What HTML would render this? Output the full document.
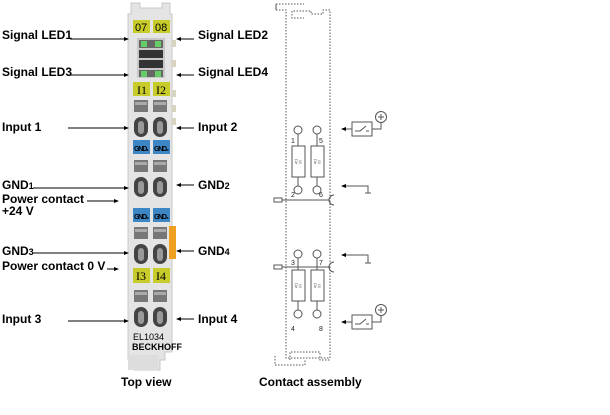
<!DOCTYPE html>
<html><head><meta charset="utf-8"><style>
body{margin:0;background:#fff;width:610px;height:415px;overflow:hidden}
svg{display:block}
text{font-family:"Liberation Sans",Arial,sans-serif;font-weight:bold;font-size:12px;fill:#000}
.y{fill:#c8cc2a}.b{fill:#3d86c6}
.lt{font-size:10px;font-weight:normal;fill:#222}
</style></head><body>
<svg width="610" height="415" viewBox="0 0 610 415" xmlns="http://www.w3.org/2000/svg">
<defs>
<marker id="a" markerWidth="5" markerHeight="5" refX="4" refY="2.5" orient="auto" markerUnits="userSpaceOnUse"><path d="M0,0.5 L5,2.5 L0,4.5z" fill="#000"/></marker>
<g id="ct">
<rect x="0" y="0" width="14" height="12" fill="#777"/><rect x="1" y="2" width="12" height="3" fill="#aaa"/>
<rect x="0" y="17" width="14" height="20" rx="7" fill="#444"/><rect x="4" y="21" width="6" height="13" rx="3" fill="#999"/>
</g>
<g id="cmp">
<circle cx="0" cy="0" r="4" fill="#fff" stroke="#555"/>
<line x1="0" y1="4" x2="0" y2="60" stroke="#555"/>
<rect x="-6" y="16" width="13" height="31" fill="#fff" stroke="#555"/>
<text x="-4" y="34" style="font-size:6px;font-weight:normal;fill:#777">⊽≡</text>
<circle cx="0" cy="60" r="4" fill="#fff" stroke="#555"/>
</g>
<g id="sw">
<rect x="0" y="0" width="20" height="14" fill="#fff" stroke="#555"/>
<path d="M3,9 H8 L14,4 M14,9 H17" stroke="#555" fill="none"/>
<line x1="0" y1="7" x2="-10" y2="7" stroke="#555" marker-end="url(#a)"/>
<path d="M20,7 H29 V1" stroke="#555" fill="none"/>
<circle cx="29" cy="-5" r="5.5" fill="#fff" stroke="#555"/>
<path d="M26,-5 H32 M29,-8 V-2" stroke="#555"/>
</g>
</defs>
<path d="M128,14 H131 V3 H140 V8 H162 V3 H170 V14 H172 V352 H165 V360 H160 V370 H134 V360 H128 Z" fill="#e4e4e4" stroke="#c8c8c8"/>
<rect x="128" y="355" width="30" height="15" fill="#ddd"/>
<rect x="133" y="20" width="17" height="13" class="y"/><rect x="153" y="20" width="17" height="13" class="y"/>
<text x="135" y="31" style="font-size:11px;font-weight:normal">07</text><text x="155" y="31" style="font-size:11px;font-weight:normal">08</text>
<rect x="137" y="38" width="28" height="40" fill="#c8c8c8"/>
<rect x="139" y="40" width="24" height="8" fill="#666"/><rect x="141" y="41" width="6" height="6" fill="#6c6"/><rect x="155" y="41" width="6" height="6" fill="#6c6"/>
<rect x="139" y="50" width="24" height="8" fill="#333"/><rect x="139" y="60" width="24" height="8" fill="#333"/>
<rect x="139" y="70" width="24" height="7" fill="#666"/><rect x="141" y="71" width="6" height="6" fill="#6c6"/><rect x="155" y="71" width="6" height="6" fill="#6c6"/>
<rect x="172" y="40" width="4" height="7" fill="#d8d4c0"/><rect x="172" y="60" width="4" height="7" fill="#d8d4c0"/><rect x="172" y="90" width="4" height="7" fill="#d8d4c0"/><rect x="172" y="105" width="4" height="7" fill="#d8d4c0"/><rect x="172" y="118" width="4" height="7" fill="#d8d4c0"/>
<rect x="133" y="82" width="17" height="14" class="y"/><rect x="153" y="82" width="17" height="14" class="y"/>
<text x="137" y="94" style="font-family:'Liberation Serif',serif;font-weight:normal">I1</text><text x="156" y="94" style="font-family:'Liberation Serif',serif;font-weight:normal">I2</text>
<use href="#ct" x="134" y="100"/><use href="#ct" x="153" y="100"/>
<rect x="133" y="140" width="17" height="14" class="b"/><rect x="153" y="140" width="17" height="14" class="b"/>
<text x="134" y="151" style="font-size:7px" textLength="15">GND₁</text><text x="154" y="151" style="font-size:7px" textLength="15">GND₂</text>
<use href="#ct" x="134" y="160"/><use href="#ct" x="153" y="160"/>
<rect x="133" y="208" width="17" height="14" class="b"/><rect x="153" y="208" width="17" height="14" class="b"/>
<text x="134" y="219" style="font-size:7px" textLength="15">GND₃</text><text x="154" y="219" style="font-size:7px" textLength="15">GND₄</text>
<use href="#ct" x="134" y="227"/><use href="#ct" x="153" y="227"/>
<rect x="169" y="226" width="7" height="33" fill="#f0a020"/>
<rect x="133" y="268" width="17" height="15" class="y"/><rect x="153" y="268" width="17" height="15" class="y"/>
<text x="136" y="280" style="font-family:'Liberation Serif',serif;font-weight:normal">I3</text><text x="156" y="280" style="font-family:'Liberation Serif',serif;font-weight:normal">I4</text>
<use href="#ct" x="134" y="290"/><use href="#ct" x="153" y="290"/>
<text x="133" y="340" style="font-size:9px;font-weight:normal">EL1034</text>
<text x="132" y="350" style="font-size:9px">BECKHOFF</text>
<g stroke="#000" fill="none" marker-end="url(#a)">
<line x1="70" y1="39" x2="128" y2="39"/><line x1="70" y1="75" x2="128" y2="75"/>
<line x1="68" y1="128" x2="128" y2="128"/><line x1="33" y1="188" x2="128" y2="188"/>
<line x1="87" y1="201" x2="118" y2="201"/><line x1="33" y1="253" x2="128" y2="253"/>
<line x1="107" y1="269" x2="118" y2="269"/><line x1="68" y1="321" x2="128" y2="321"/>
<line x1="194" y1="39" x2="177" y2="39"/><line x1="194" y1="75" x2="177" y2="75"/>
<line x1="194" y1="128" x2="177" y2="128"/><line x1="194" y1="185" x2="177" y2="185"/>
<line x1="194" y1="251" x2="177" y2="251"/><line x1="194" y1="319" x2="177" y2="319"/>
</g>
<text x="2" y="39">Signal LED1</text><text x="2" y="76">Signal LED3</text>
<text x="2" y="131">Input 1</text>
<text x="2" y="189">GND<tspan style="font-size:9px">1</tspan></text>
<text x="2" y="203">Power contact</text><text x="2" y="215">+24 V</text>
<text x="2" y="255">GND<tspan style="font-size:9px">3</tspan></text>
<text x="2" y="270">Power contact 0 V</text>
<text x="2" y="323">Input 3</text>
<text x="198" y="39">Signal LED2</text><text x="198" y="76">Signal LED4</text>
<text x="198" y="131">Input 2</text>
<text x="198" y="189">GND<tspan style="font-size:9px">2</tspan></text>
<text x="198" y="255">GND<tspan style="font-size:9px">4</tspan></text>
<text x="198" y="323">Input 4</text>
<text x="121" y="386" style="font-size:12px">Top view</text>
<text x="259" y="386" style="font-size:12px">Contact assembly</text>
<g stroke="#555" fill="none" stroke-dasharray="1.5,1.5">
<path d="M276,4 H304 M276,4 V10 H286 V358 H330 V10 H323 V14 H311 V11 H292 V18 H304"/>
<path d="M276,10 V4 M275,356 V365 H305 V360 M290,360 V352 H320 V360 H330"/>
</g>
<use href="#cmp" x="298" y="130"/><use href="#cmp" x="317" y="130"/>
<text class="lt" x="291" y="143" style="font-size:7px">1</text><text class="lt" x="319" y="143" style="font-size:7px">5</text>
<text class="lt" x="291" y="197" style="font-size:7px">2</text><text class="lt" x="319" y="197" style="font-size:7px">6</text>
<rect x="274" y="198" width="8" height="4" fill="#fff" stroke="#555"/>
<line x1="282" y1="200" x2="329" y2="200" stroke="#555"/>
<path d="M334,195 A5,5 0 0 0 334,205" stroke="#555" fill="none"/>
<path d="M368,193 V186 H342" stroke="#555" fill="none" marker-end="url(#a)"/>
<line x1="365" y1="193" x2="371" y2="193" stroke="#555"/>
<use href="#sw" x="352" y="122"/>
<use href="#cmp" x="298" y="254"/><use href="#cmp" x="317" y="254"/>
<text class="lt" x="291" y="265" style="font-size:7px">3</text><text class="lt" x="319" y="265" style="font-size:7px">7</text>
<text class="lt" x="291" y="331" style="font-size:7px">4</text><text class="lt" x="319" y="331" style="font-size:7px">8</text>
<rect x="274" y="265" width="8" height="4" fill="#fff" stroke="#555"/>
<line x1="282" y1="267" x2="329" y2="267" stroke="#555"/>
<path d="M334,262 A5,5 0 0 0 334,272" stroke="#555" fill="none"/>
<path d="M368,263 V255 H342" stroke="#555" fill="none" marker-end="url(#a)"/>
<line x1="365" y1="263" x2="371" y2="263" stroke="#555"/>
<use href="#sw" x="352" y="315"/>
</svg>
</body></html>
